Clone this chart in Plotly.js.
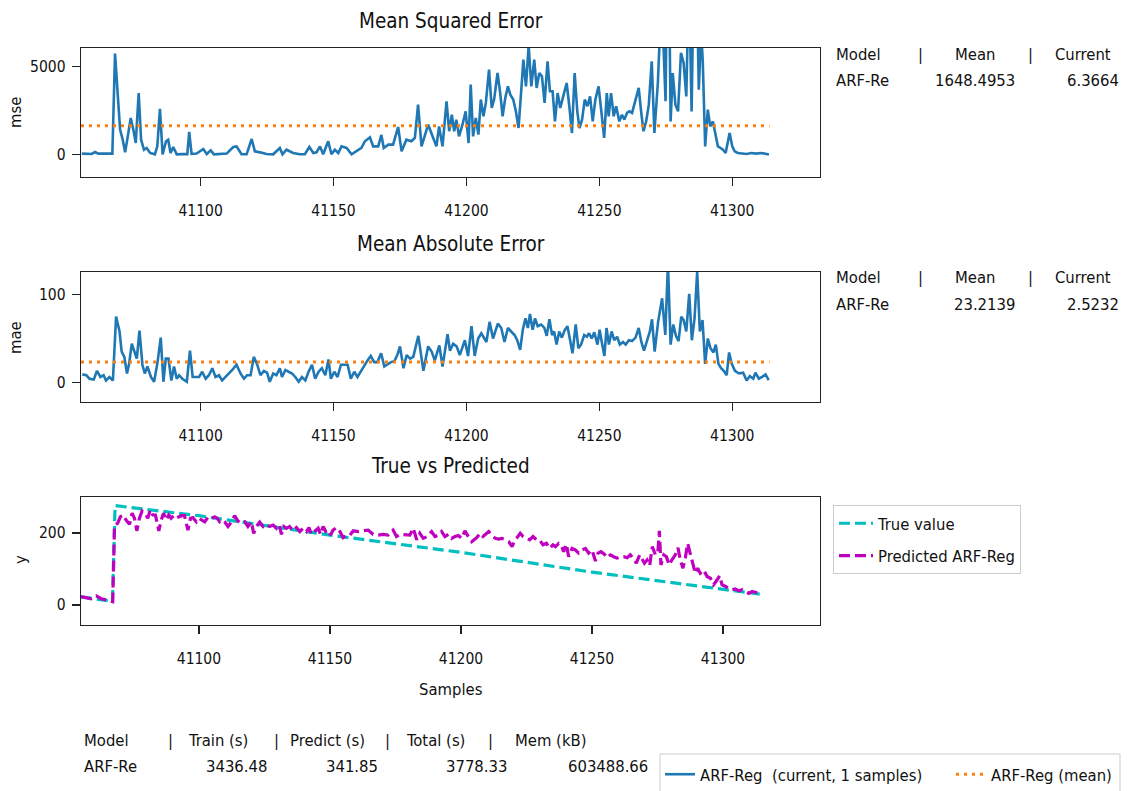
<!DOCTYPE html>
<html>
<head>
<meta charset="utf-8">
<script src="https://cdn.plot.ly/plotly-3.0.1.min.js"></script>
<style>
  html, body { margin: 0; padding: 0; background: #fff; }
  #chart { width: 1130px; height: 791px; }
</style>
</head>
<body>
<div id="chart"></div>
<script>
// ---- per-sample error of the model (window of 1 sample) ----
const mseX = [41055.3,41057.1,41059,41060.3,41061.5,41063.4,41065.3,41066.8,41067.8,41068.8,41069.7,41070.7,41071.6,41072.6,41073.7,41074.7,41075.6,41076.7,41077.6,41078.7,41079.7,41081,41082.8,41083.7,41084.7,41085.7,41087,41087.8,41088.7,41089.7,41091,41093,41095,41095.7,41096.6,41098.5,41101,41102.3,41103.8,41105,41107.3,41109.8,41112.3,41113.5,41115.4,41117.3,41119.2,41120.4,41122.3,41124.8,41127.3,41129.8,41130.8,41132.3,41134.8,41137.3,41139.2,41140.9,41142.4,41143.6,41144.9,41146.1,41148,41149.2,41150.5,41151.8,41153,41154.9,41156.8,41158.6,41160.5,41161.8,41163.7,41164.9,41166.8,41168,41168.9,41170.6,41172.4,41174.3,41175.6,41177.4,41179.3,41180.6,41181.8,41183.1,41185.6,41187.5,41188.7,41189.7,41191,41192.5,41193.5,41194.5,41195.4,41196.2,41197.2,41198.5,41199.7,41200.8,41201.6,41202.5,41203.5,41204.5,41205.4,41206.4,41207.3,41208.5,41209.5,41210.4,41211.7,41212.7,41213.6,41214.6,41215.6,41216.5,41217.6,41218.6,41219.6,41220.9,41221.4,41222.4,41223.4,41224.4,41225.5,41226.4,41227.4,41228.4,41229.4,41230.5,41231.4,41232.4,41233.3,41234.3,41235.3,41236.4,41237.7,41238.7,41239.7,41240.7,41241.7,41242.5,41243.5,41244.5,41245.5,41246.5,41247.5,41248.5,41249.7,41250.8,41251.8,41252.8,41253.5,41254.4,41255.4,41256.3,41257.5,41258.5,41259.4,41260.4,41261.3,41262.3,41263.2,41264.1,41264.8,41265.7,41266.6,41267.6,41268.6,41269.7,41270.7,41272,41273.4,41274.9,41275.8,41276.8,41277.6,41278.6,41279.6,41280.7,41281.7,41282.7,41283.7,41284.7,41286,41287.4,41288.3,41288.9,41289.8,41290.8,41291.7,41292.7,41293.6,41294.6,41295.6,41296.5,41297.5,41298.4,41299,41300,41300.9,41302.1,41303.4,41305.3,41307.2,41309,41310.9,41312.2,41313.8];
const mseY = [60,60,40,150,60,60,60,60,5740,3310,1420,850,130,1040,2080,1420,660,3500,850,280,380,95,20,470,2610,20,760,850,95,435,20,30,30,1290,40,60,320,40,245,20,20,60,435,470,20,20,890,190,130,40,20,380,20,280,95,20,20,435,95,130,470,20,760,20,280,95,470,380,20,190,380,760,985,470,470,1120,380,570,570,1570,190,850,760,950,2840,470,1700,950,470,1600,470,3030,1330,2270,1330,1990,1040,1700,2460,660,3980,1040,2080,1140,3130,2180,2940,4830,2650,3130,4640,3500,2180,3220,3880,3410,3130,2460,1515,4260,5400,3880,6200,3880,5400,3790,4640,4450,2940,5300,3600,3600,1890,3500,2650,3310,4070,2750,1230,4640,2460,1515,1990,3130,2750,3310,1890,3130,3880,2370,950,3500,2180,3500,2180,2750,1890,2270,1990,2370,2460,2370,2840,3410,3790,2460,1330,1890,2840,5300,1230,4070,9200,3030,16000,1890,4640,2840,2460,5780,5210,3310,10200,2460,15600,3690,7000,5300,470,2560,1610,1890,1230,470,380,280,95,760,1230,470,190,95,57,40,95,57,95,40,6.3664];

const maeX = [41055.5,41057,41058.2,41059.8,41061,41062.3,41063.5,41064.4,41065.7,41067,41068.2,41069.5,41070.3,41071.3,41072.3,41073.1,41074.1,41075,41076,41077,41078.1,41079,41080,41081.3,41082.5,41083.8,41085,41086,41086.9,41087.9,41089,41090,41091,41091.9,41093.1,41094.8,41096,41097,41098.1,41099.4,41100.6,41101.9,41103.1,41104.4,41105.6,41106.9,41108.1,41109.4,41110.6,41111.9,41113.5,41115,41116.3,41117.5,41118.8,41120,41121.3,41122.5,41123.8,41125,41126,41127.3,41128.5,41129.8,41130.6,41131.9,41133.1,41134.4,41135.6,41136.9,41138.1,41139.4,41140.6,41141.9,41143.1,41144.4,41145.6,41146.9,41148.1,41149,41150.3,41151.5,41152.8,41154,41155.3,41156.5,41157.8,41159,41160.3,41161.5,41162.8,41164,41165.3,41166.5,41167.9,41169.1,41170.4,41171.6,41172.9,41174.1,41175,41176.3,41177.5,41178.8,41180,41181.9,41183.8,41185.6,41186.9,41188.1,41189.8,41191,41192.9,41193.8,41195,41196.3,41197.5,41199.4,41200.6,41201.9,41203.1,41204.4,41205.6,41207.5,41208.7,41210,41211.8,41213.1,41214.3,41215.6,41216.8,41218.1,41219.1,41220.2,41221.2,41222.2,41223.1,41223.9,41224.9,41225.8,41226.8,41228.1,41229.3,41230.2,41231.2,41232.2,41233,41233.9,41234.9,41235.9,41236.9,41238,41239,41239.9,41241.1,41242.1,41243.1,41244.3,41245.3,41246.1,41247.1,41248.1,41249.3,41250.1,41250.9,41251.9,41252.7,41253.6,41254.6,41255.6,41256.7,41257.7,41258.9,41259.9,41261.1,41262.3,41263.6,41264.8,41265.8,41266.8,41268,41269,41269.8,41270.8,41272.1,41273.6,41274.8,41275.8,41276.8,41277.8,41278.8,41279.8,41280.8,41281.7,41282.7,41283.8,41284.8,41285.8,41286.8,41287.8,41288.8,41289.8,41290.8,41291.8,41292.9,41293.8,41294.8,41295.8,41296.8,41297.9,41298.8,41299.8,41301,41302.5,41304.1,41305.4,41306.6,41307.9,41308.7,41310,41311.2,41312.5,41313.7];
const maeY = [9,8,4,3,13,6,8,2,6,2,75,58,35,29,10,21,44,37,27,59,20,10,18,6,0.5,23,51,0.5,27,27,2,18,4,8,4,0.5,36,6,6,6,12,4,8,16,6,8,2,6,9,14,20,10,4,8,8,29,20,8,13,11,0.5,10,8,16,6,14,12,10,6,0.5,6,2,12,20,4,12,16,8,26,4,12,6,20,20,20,4,12,6,13,18,25,30,23,23,33,18,21,23,24,32,41,16,31,27,29,53,13,41,35,25,42,18,55,36,44,41,31,48,30,64,30,50,56,46,69,50,67,62,46,62,58,54,48,37,60,73,62,78,60,73,64,66,62,53,72,54,58,43,58,51,59,64,48,33,66,39,43,54,52,56,50,57,43,60,46,30,62,43,58,48,52,43,46,43,48,47,51,62,46,36,48,58,72,35,69,96,54,135,43,66,53,47,75,71,58,101,48,73,126,58,71,21,50,39,34,43,21,16,13,8,34,21,13,10,11,2,7,4,11,4,6,9,2.5232];

// running means reported in the side tables
const mseMean = 1648.4953;
const maeMean = 23.2139;
const mseCurrent = 6.3664;
const maeCurrent = 2.5232;
const meanSpan = [41055, 41314];

// ---- target and prediction ----
const trueX = [41055,41067,41068,41100,41150,41200,41250,41300,41314];
const trueY = [22,10,276,248,194,146,91,42,30];

const predX = [41055,41057,41058.9,41060.8,41062.7,41064.6,41066.5,41067.1,41067.8,41069,41070,41071,41072.2,41073.5,41074.5,41075.4,41076.3,41077.3,41078.3,41079.4,41080.5,41081.4,41082.4,41083.4,41084.7,41085.6,41086.5,41087.5,41088.5,41089.4,41090.3,41091.3,41092.4,41093.4,41094.5,41095.8,41096.8,41097.7,41099,41100,41101,41102.2,41103.4,41104.7,41106,41107,41107.9,41108.9,41109.8,41111.1,41112.4,41113.6,41114.9,41116.2,41117.5,41118.7,41120,41120.9,41121.9,41123.2,41124.5,41125.7,41127,41128.3,41129.6,41130.6,41131.5,41132.4,41133.4,41134.6,41135.9,41137.2,41138.5,41139.7,41141,41142,41142.9,41144.2,41145.5,41146.4,41147.4,41148.4,41149.3,41150.2,41151.2,41152.5,41153.8,41155,41156.3,41157.6,41158.9,41160.8,41162.7,41164.6,41166.5,41168.4,41170.3,41172.2,41174.1,41175.4,41176.7,41178.6,41180.5,41181.8,41183.1,41184.3,41185.6,41187.1,41188.8,41190.1,41191.3,41192.6,41193.9,41195.2,41196.4,41197.7,41199,41200.3,41201.5,41202.8,41204.1,41206,41207.4,41208.4,41209.3,41210.6,41211.8,41213.1,41214.4,41215.6,41216.9,41218.2,41219.5,41220.4,41221.4,41222.6,41223.7,41224.9,41226.2,41227.5,41228.8,41230,41231.3,41232.6,41233.8,41235.1,41236,41237.3,41238.2,41239.2,41240.2,41241.1,41242.4,41243.6,41244.9,41246.2,41247.5,41248.7,41250,41251.3,41252.3,41253.4,41254.7,41255.7,41257,41258.3,41259.5,41260.8,41262.1,41263.4,41264.6,41265.6,41266.9,41268.2,41269.1,41270,41271,41272,41273,41274.2,41275.1,41275.7,41276.3,41277.4,41278.4,41279.4,41280.5,41281.8,41282.8,41283.7,41284.7,41285.6,41286.5,41287.5,41288.5,41289.4,41290.3,41291.3,41292.6,41293.9,41295.2,41296.4,41297.7,41298.7,41299.6,41300.9,41302.2,41303.4,41304.7,41306,41307.3,41308.5,41309.8,41311.1,41312.4,41313.7];
const predY = [23,19,17,25,17,14,9,9,222,227,245,250,236,224,255,241,206,241,261,255,241,264,250,250,206,236,255,236,250,241,248,241,245,248,248,208,241,243,231,241,236,231,243,239,245,241,231,236,231,218,231,248,233,227,231,218,231,199,218,230,218,224,218,222,213,222,196,218,213,218,206,215,204,213,204,215,196,206,213,196,218,204,208,194,208,215,204,187,194,194,206,204,206,208,196,194,196,194,208,190,196,194,194,213,181,199,185,190,204,190,194,204,190,196,185,190,193,185,206,190,176,187,199,190,196,204,193,185,183,185,181,176,162,178,187,199,190,185,181,190,181,181,167,171,157,167,162,171,167,148,169,134,157,153,144,153,157,144,153,122,144,148,141,131,139,134,130,134,134,131,139,130,116,139,128,116,125,109,162,139,144,206,111,139,134,111,125,139,159,125,102,130,171,139,116,88,102,88,97,79,74,56,69,81,56,51,46,42,44,39,42,37,32,37,35,32.5];

// ---- tick labels ----
const sampleTicks = [41100, 41150, 41200, 41250, 41300];
const mseTicks = [0, 5000];
const maeTicks = [0, 100];
const yTicks = [0, 200];

// ---- summary tables ----
const modelName = 'ARF-Re';
const metricHeader = ['Model', '|', 'Mean', '|', 'Current'];
const timeHeader = ['Model', '|', 'Train (s)', '|', 'Predict (s)', '|', 'Total (s)', '|', 'Mem (kB)'];
const timeValues = ['ARF-Re', '3436.48', '341.85', '3778.33', '603488.66'];

// ---- styling ----
const FONT = "'DejaVu Sans Condensed', 'DejaVu Sans', sans-serif";
const INK = '#111111';
const BLUE = '#1f77b4', ORANGE = '#ff7f0e', CYAN = '#00bfbf', MAGENTA = '#bf00bf';

// plot-area edges in pixels, used to place text and panels
const L = 81, R = 820, T = 48, B = 625;
const fx = p => (p - L) / (R - L);
const fy = p => (B - p) / (B - T);

const traces = [
  { x: mseX, y: mseY, xaxis: 'x', yaxis: 'y', mode: 'lines', name: 'ARF-Reg&nbsp; (current, 1 samples)',
    line: { color: BLUE, width: 2.6 }, legend: 'legend2' },
  { x: meanSpan, y: [mseMean, mseMean], xaxis: 'x', yaxis: 'y', mode: 'lines', name: 'ARF-Reg (mean)',
    line: { color: ORANGE, width: 3, dash: '3px,5px' }, legend: 'legend2' },
  { x: maeX, y: maeY, xaxis: 'x2', yaxis: 'y2', mode: 'lines', showlegend: false,
    line: { color: BLUE, width: 2.6 } },
  { x: meanSpan, y: [maeMean, maeMean], xaxis: 'x2', yaxis: 'y2', mode: 'lines', showlegend: false,
    line: { color: ORANGE, width: 3, dash: '3px,5px' } },
  { x: trueX, y: trueY, xaxis: 'x3', yaxis: 'y3', mode: 'lines', name: 'True value',
    line: { color: CYAN, width: 3.2, dash: '11px,5px' }, legend: 'legend', legendgroup: 'a' },
  { x: predX, y: predY, xaxis: 'x3', yaxis: 'y3', mode: 'lines', name: 'Predicted ARF-Reg',
    line: { color: MAGENTA, width: 3.2, dash: '11px,5px' }, legend: 'legend', legendgroup: 'b' }
];

const axisStyle = {
  showline: true, mirror: true, linecolor: '#222', linewidth: 1.3,
  ticks: 'outside', ticklen: 8, tickwidth: 1.3, tickcolor: '#222',
  showgrid: false, zeroline: false, tickformat: 'd',
  tickfont: { family: FONT, size: 15.5, color: INK }
};
const xAxis = (range, anchor) => Object.assign({}, axisStyle, {
  range: range, anchor: anchor, tickmode: 'array', tickvals: sampleTicks, domain: [0, 1],
  ticklabelstandoff: 11
});
const yAxis = (range, domain, vals, anchor) => Object.assign({}, axisStyle, {
  range: range, domain: domain, anchor: anchor, tickmode: 'array', tickvals: vals,
  ticklabelstandoff: 3
});

const ann = (text, xp, yp, opts) => Object.assign({
  text: text, xref: 'paper', yref: 'paper', x: fx(xp), y: fy(yp),
  xanchor: 'left', yanchor: 'middle', showarrow: false,
  font: { family: FONT, size: 16.5, color: INK }
}, opts || {});

const TITLE_FONT = { family: FONT, size: 20.5, color: INK };
const annotations = [
  ann('Mean Squared Error', 450.5, 21, { xanchor: 'center', font: TITLE_FONT }),
  ann('Mean Absolute Error', 450.5, 244, { xanchor: 'center', font: TITLE_FONT }),
  ann('True vs Predicted', 450.5, 466, { xanchor: 'center', font: TITLE_FONT }),
  ann('mse', 15, 113, { xanchor: 'center', textangle: -90 }),
  ann('mae', 15, 338, { xanchor: 'center', textangle: -90 }),
  ann('y', 20, 560, { xanchor: 'center', textangle: -90 }),
  ann('Samples', 450.5, 689, { xanchor: 'center' })
];

// metric tables to the right of the first two panels
const headerPos = [834, 916, 953, 1026, 1053];
[[54, mseMean, mseCurrent], [277, maeMean, maeCurrent]].forEach(([top, mean, cur]) => {
  metricHeader.forEach((t, i) => annotations.push(ann(t, headerPos[i], top)));
  annotations.push(ann(modelName, 834, top + 27));
  annotations.push(ann(mean.toFixed(4), 1017, top + 27, { xanchor: 'right' }));
  annotations.push(ann(cur.toFixed(4), 1121, top + 27, { xanchor: 'right' }));
});

// timing table under the last panel
const timeHeaderPos = [82, 166, 186, 272, 288, 383, 404, 486, 513];
timeHeader.forEach((t, i) => annotations.push(ann(t, timeHeaderPos[i], 740)));
const timeValuePos = [82, 204, 324, 444, 566];
timeValues.forEach((t, i) => annotations.push(ann(t, timeValuePos[i], 766)));

const layout = {
  width: 1130, height: 791,
  paper_bgcolor: '#ffffff', plot_bgcolor: '#ffffff',
  margin: { l: L, r: 1130 - R, t: T, b: 791 - B, autoexpand: false },
  font: { family: FONT, color: INK },
  xaxis: xAxis([41055, 41333], 'y'),
  yaxis: yAxis([-1270, 6060], [fy(177), 1], mseTicks, 'x'),
  xaxis2: xAxis([41055, 41333], 'y2'),
  yaxis2: yAxis([-22.6, 126], [fy(402), fy(272)], maeTicks, 'x2'),
  xaxis3: xAxis([41055, 41337], 'y3'),
  yaxis3: yAxis([-56, 300], [0, fy(497)], yTicks, 'x3'),
  showlegend: true,
  legend: {
    x: fx(833), y: fy(505), xanchor: 'left', yanchor: 'top',
    bgcolor: '#ffffff', bordercolor: '#cccccc', borderwidth: 1,
    font: { family: FONT, size: 16.5, color: INK },
    itemwidth: 34, tracegroupgap: 8, traceorder: 'grouped'
  },
  legend2: {
    x: fx(660), y: fy(757), xanchor: 'left', yanchor: 'top', orientation: 'h',
    bgcolor: 'rgba(0,0,0,0)', borderwidth: 0,
    font: { family: FONT, size: 16.5, color: INK },
    itemwidth: 30, entrywidth: 246, entrywidthmode: 'pixels'
  },
  shapes: [
    { type: 'rect', xref: 'paper', yref: 'paper', x0: fx(660), x1: fx(1120), y0: fy(805), y1: fy(754),
      line: { color: '#cccccc', width: 1 }, fillcolor: 'rgba(255,255,255,0)', layer: 'below' }
  ],
  annotations: annotations
};

Plotly.newPlot('chart', traces, layout, { displayModeBar: false, staticPlot: true });
</script>
</body>
</html>
